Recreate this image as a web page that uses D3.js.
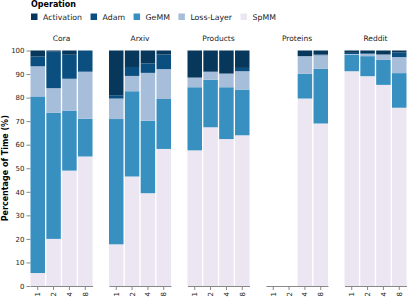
<!DOCTYPE html>
<html lang="en">
<head>
    <meta charset="UTF-8">
    <title>Percentage of Time by Operation</title>
    <script src="https://d3js.org/d3.v7.min.js"></script>
    <style>
        body { margin: 0; background: #fff; }
        svg { font-family: "DejaVu Sans", sans-serif; display: block; }
        .axis text { fill: #222; }
        .axis line, .axis path { stroke: #888; }
    </style>
</head>
<body>
    <svg width="407" height="297"></svg>
    <script>
        const width = 407;
        const height = 297;

        // Данные
        const datasets = ["Cora", "Arxiv", "Products", "Proteins", "Reddit"];
        const gpus = ["1", "2", "4", "8"];
        const operations = ["Activation", "Adam", "GeMM", "Loss-Layer", "SpMM"];
        const stackOrder = ["SpMM", "GeMM", "Loss-Layer", "Adam", "Activation"];
        const colors = ["#07375a", "#0b4f80", "#3890c1", "#a7bedb", "#ebe6f2"];

        // значения по датасетам, в порядке gpus; null = нет данных
        const spmm = [
            [5.5, 20, 49, 55],
            [17.7, 46.5, 39.4, 58.2],
            [57.6, 67.4, 62.4, 64],
            [null, null, 79.6, 69],
            [91.2, 89.1, 85.4, 75.7]
        ];
        const gemm = [
            [75, 53.5, 25.5, 16],
            [53.2, 36.2, 30.8, 21.2],
            [26.8, 20.2, 22, 19.4],
            [null, null, 10.5, 23.2],
            [7, 8.5, 10.6, 14.7]
        ];
        const lossLayer = [
            [12.8, 10.5, 13.5, 20],
            [8.7, 6.5, 20.3, 12.7],
            [4.1, 3.4, 5.8, 7.8],
            [null, null, 7.5, 5.8],
            [0.3, 1.0, 2.3, 6.8]
        ];
        const adam = [
            [4.2, 15.5, 10.2, 9],
            [1.4, 3.8, 4, 6.2],
            [0, 0, 0, 1.4],
            [null, null, 0, 0.3],
            [0.5, 0.3, 0, 1.9]
        ];
        const activation = [
            [2.5, 0.5, 1.8, 0],
            [19, 7, 5.5, 1.7],
            [11.5, 9, 9.8, 7.4],
            [null, null, 2.4, 1.7],
            [1, 1.1, 1.7, 0.9]
        ];

        const byOp = {
            "SpMM": spmm,
            "GeMM": gemm,
            "Loss-Layer": lossLayer,
            "Adam": adam,
            "Activation": activation
        };

        const color = d3.scaleOrdinal().domain(operations).range(colors);

        const svg = d3.select("svg");

        // Масштабы
        const facetX = d3.scaleBand().domain(datasets).range([30.5, 406.5]).paddingInner(0.21);
        const x = d3.scaleBand().domain(gpus).range([0, facetX.bandwidth()]).paddingInner(0.085);
        const y = d3.scaleLinear().domain([0, 100]).range([286, 50.5]);

        // Ось Y
        svg.append("g")
            .attr("class", "axis")
            .attr("transform", `translate(${facetX.range()[0]},0)`)
            .call(d3.axisLeft(y).tickValues(d3.range(0, 101, 10)).tickSize(4).tickPadding(2))
            .call(g => g.select(".domain").remove())
            .call(g => g.selectAll("text").attr("font-size", 7).attr("font-family", "DejaVu Sans"));

        svg.append("text")
            .attr("transform", `translate(5.5,${(y(0) + y(100)) / 2}) rotate(-90)`)
            .attr("text-anchor", "middle")
            .attr("dominant-baseline", "middle")
            .attr("font-size", 8)
            .attr("font-weight", "bold")
            .text("Percentage of Time (%)");

        // Фасеты
        datasets.forEach((ds, di) => {
            const rows = gpus.map((gpu, gi) => {
                const r = { gpu: gpu, missing: spmm[di][gi] === null };
                stackOrder.forEach(op => { r[op] = byOp[op][di][gi] || 0; });
                return r;
            }).filter(r => !r.missing);

            const series = d3.stack().keys(stackOrder)(rows);

            const g = svg.append("g")
                .attr("transform", `translate(${facetX(ds)},0)`);

            g.selectAll("g.layer")
                .data(series)
                .enter().append("g")
                .attr("class", "layer")
                .attr("fill", d => color(d.key))
                .selectAll("rect")
                .data(d => d)
                .enter().append("rect")
                .attr("x", d => x(d.data.gpu))
                .attr("width", x.bandwidth())
                .attr("y", d => y(d[1]))
                .attr("height", d => Math.max(0, y(d[0]) - y(d[1])));

            // Ось X
            g.append("g")
                .attr("class", "axis")
                .attr("transform", `translate(0,${y(0)})`)
                .call(d3.axisBottom(x).tickSize(4).tickSizeOuter(0).tickPadding(2))
                .call(a => a.selectAll("text")
                    .attr("font-size", 7)
                    .attr("font-family", "DejaVu Sans")
                    .attr("transform", "rotate(-90)")
                    .attr("text-anchor", "end")
                    .attr("x", -6)
                    .attr("y", 0)
                    .attr("dy", "0.35em"));

            // Заголовок фасета
            g.append("text")
                .attr("x", facetX.bandwidth() / 2)
                .attr("y", 41)
                .attr("text-anchor", "middle")
                .attr("font-size", 7.5)
                .attr("fill", "#222")
                .text(ds);
        });

        // Легенда
        const legend = svg.append("g").attr("transform", "translate(31,0)");
        legend.append("text")
            .attr("x", 0)
            .attr("y", 7)
            .attr("font-size", 8)
            .attr("font-weight", "bold")
            .text("Operation");

        let lx = 0;
        operations.forEach(op => {
            const item = legend.append("g").attr("transform", `translate(${lx},13.5)`);
            item.append("rect")
                .attr("width", 6.5)
                .attr("height", 6.5)
                .attr("fill", color(op));
            const t = item.append("text")
                .attr("x", 12)
                .attr("y", 6.3)
                .attr("font-size", 7.8)
                .attr("fill", "#222")
                .text(op);
            lx += 12 + t.node().getComputedTextLength() + 8.5;
        });
    </script>
</body>
</html>
